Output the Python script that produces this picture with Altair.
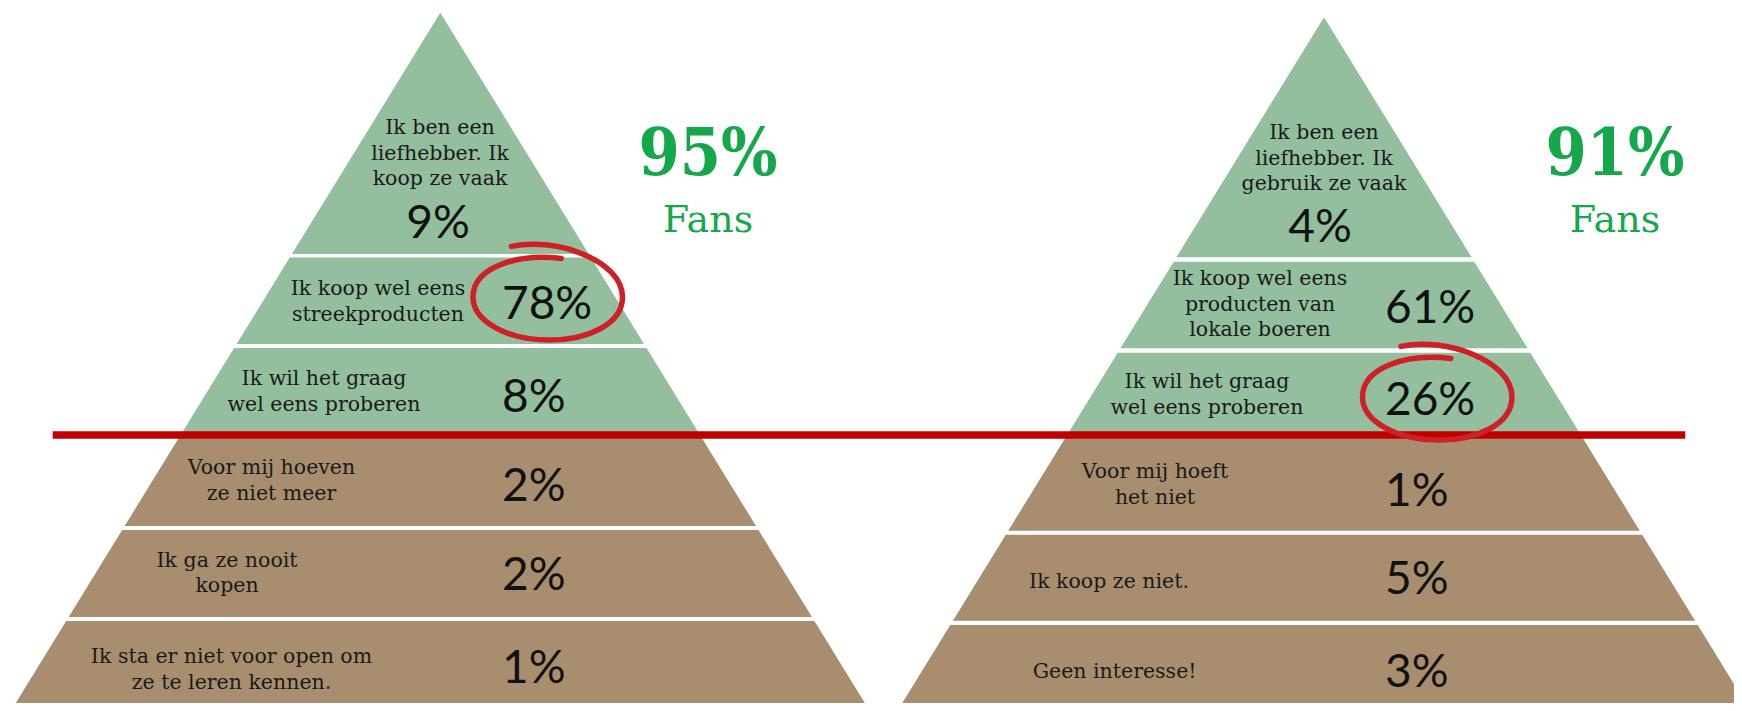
import altair as alt
import pandas as pd

# ---------------- data ----------------
left_labels = [
    "Ik ben een\nliefhebber. Ik\nkoop ze vaak",
    "Ik koop wel eens\nstreekproducten",
    "Ik wil het graag\nwel eens proberen",
    "Voor mij hoeven\nze niet meer",
    "Ik ga ze nooit\nkopen",
    "Ik sta er niet voor open om\nze te leren kennen.",
]
left_values = [9, 78, 8, 2, 2, 1]
left_fans = 95

right_labels = [
    "Ik ben een\nliefhebber. Ik\ngebruik ze vaak",
    "Ik koop wel eens\nproducten van\nlokale boeren",
    "Ik wil het graag\nwel eens proberen",
    "Voor mij hoeft\nhet niet",
    "Ik koop ze niet.",
    "Geen interesse!",
]
right_values = [4, 61, 26, 1, 5, 3]
right_fans = 91

fans_word = "Fans"
circled_tier = [1, 2]          # tier index that is circled in each pyramid

# ---------------- layout (reference pixel space) ----------------
W, H = 1726, 695
X0, Y0 = 8, 8
SLOPE = 0.615
GREEN, BROWN = "#93bf9e", "#a88e6e"

layout = [
    dict(cx=440.3, apex=12.7,
         bands=[(12.7, 254), (257.5, 344), (348, 435), (435, 526), (530, 617), (621, 720)],
         label_xy=[(440, 134), (378, 295), (324, 385), (271.5, 474), (227, 566.7), (231.5, 663.3)],
         pct_top=(438, 238), pct_left_x=502,
         pct_base=[238, 319.3, 411.7, 501, 589.6, 682.5],
         fans_x=708, circle=(548.5, 298.5)),
    dict(cx=1324, apex=17.3,
         bands=[(17.3, 257.3), (261.7, 348.3), (352.7, 435), (435, 530.7), (534.7, 620.7), (625, 720)],
         label_xy=[(1324, 139), (1260, 285), (1207, 388), (1155, 478.3), (1109, 588.3), (1114.6, 678.3)],
         pct_top=(1320, 242), pct_left_x=1385,
         pct_base=[242, 323.3, 415, 505.6, 594, 687],
         fans_x=1615, circle=(1438, 398.5)),
]
series = [(left_labels, left_values, left_fans), (right_labels, right_values, right_fans)]

# ---------------- tables ----------------
area_rows, label_rows, pct_top_rows, pct_rows, fans_rows, circle_rows = [], [], [], [], [], []
for p, (lay, (labels, values, fans)) in enumerate(zip(layout, series)):
    for i, (y_top, y_bot) in enumerate(lay["bands"]):
        for y in (y_top, y_bot):
            hw = SLOPE * (y - lay["apex"])
            area_rows.append(dict(key=f"{p}-{i}", y=y, xl=lay["cx"] - hw, xr=lay["cx"] + hw,
                                  fill=GREEN if i < 3 else BROWN))
        lx, ly = lay["label_xy"][i]
        label_rows.append(dict(text=labels[i], x=lx, y=ly))
        if i == 0:
            pct_top_rows.append(dict(text=f"{values[i]}%", x=lay["pct_top"][0], y=lay["pct_base"][i]))
        else:
            pct_rows.append(dict(text=f"{values[i]}%", x=lay["pct_left_x"], y=lay["pct_base"][i]))
    fans_rows.append(dict(big=f"{fans}%", word=fans_word, x=lay["fans_x"], yb=175, yw=231.7))
    circle_rows.append(dict(x=lay["circle"][0], y=lay["circle"][1]))

xs = alt.Scale(domain=[X0, X0 + W], nice=False, zero=False)
ys = alt.Scale(domain=[Y0, Y0 + H], nice=False, zero=False, reverse=True)
X = lambda f: alt.X(f, type="quantitative", scale=xs, axis=None)
Y = lambda f: alt.Y(f, type="quantitative", scale=ys, axis=None)

areas = alt.Chart(pd.DataFrame(area_rows)).mark_area(orient="horizontal", clip=True).encode(
    y=Y("y"), x=X("xl"), x2="xr", detail="key:N", color=alt.Color("fill:N", scale=None)
)

red_line = alt.Chart(pd.DataFrame([dict(x1=52.7, x2=1685.3, y=435)])).mark_rule(
    color="#c00000", strokeWidth=7.5).encode(x=X("x1"), x2="x2", y=Y("y"))

labels_layer = alt.Chart(pd.DataFrame(label_rows)).mark_text(
    font="DejaVu Serif", fontSize=20.5, lineHeight=25.5, lineBreak="\n",
    align="center", baseline="alphabetic", color="#1a1a1a"
).encode(x=X("x"), y=Y("y"), text="text:N")

pct_top_layer = alt.Chart(pd.DataFrame(pct_top_rows)).mark_text(
    font="Lato", fontSize=46, align="center", baseline="alphabetic", color="#111111"
).encode(x=X("x"), y=Y("y"), text="text:N")

pct_layer = alt.Chart(pd.DataFrame(pct_rows)).mark_text(
    font="Lato", fontSize=46, align="left", baseline="alphabetic", color="#111111"
).encode(x=X("x"), y=Y("y"), text="text:N")

fans_df = pd.DataFrame(fans_rows)
fans_big = alt.Chart(fans_df).mark_text(
    font="DejaVu Serif Condensed, DejaVu Serif", fontWeight="bold", fontSize=66,
    align="center", baseline="alphabetic", color="#14a84b"
).encode(x=X("x"), y=Y("yb"), text="big:N")
fans_word_layer = alt.Chart(fans_df).mark_text(
    font="DejaVu Serif", fontSize=38, align="center", baseline="alphabetic", color="#14a84b"
).encode(x=X("x"), y=Y("yw"), text="word:N")

spiral = ("M -0.49 -0.69 C 0.1 -0.82 0.98 -0.5 0.98 -0.02 "
          "C 0.98 0.35 0.5 0.55 0.02 0.55 "
          "C -0.55 0.55 -1.0 0.3 -1.0 -0.02 "
          "C -1.0 -0.4 -0.45 -0.6 0.17 -0.53")
circles = alt.Chart(pd.DataFrame(circle_rows)).mark_point(
    shape=spiral, size=151 ** 2, filled=False, strokeWidth=5.5, color="#cf2027",
    opacity=1, strokeCap="round"
).encode(x=X("x"), y=Y("y"))

chart = alt.layer(
    areas, labels_layer, pct_top_layer, pct_layer, red_line, circles, fans_big, fans_word_layer
).properties(width=W, height=H, padding=0, background="white").configure_view(stroke=None)

chart.save("out.html", embed_options={"renderer": "svg", "actions": False})
